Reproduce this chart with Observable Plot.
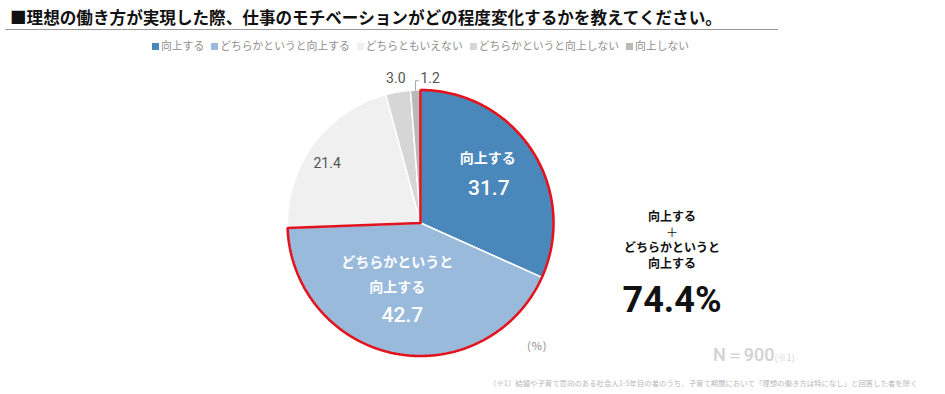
<!DOCTYPE html>
<html><head><meta charset="utf-8">
<script src="https://cdn.jsdelivr.net/npm/d3@7"></script>
<script src="https://cdn.jsdelivr.net/npm/@observablehq/plot@0.6"></script>
<style>
body{margin:0;background:#fff;font-family:"Noto Sans CJK JP","Noto Sans",sans-serif;}
#wrap{position:relative;width:945px;height:394px;overflow:hidden;background:#fff;}
.abs{position:absolute;white-space:nowrap;}
#title{left:10px;top:5px;font-size:16.6px;font-weight:700;line-height:24px;color:#111;}
#rule{left:5px;top:29px;width:773px;height:0;border-top:1.5px solid #9a9a9a;}
#legend{left:152px;top:37px;font-size:10.8px;line-height:16px;color:#8f8f8f;}
#legend .sw{display:inline-block;width:7px;height:7px;margin-right:2px;vertical-align:0px;}
#legend .it{margin-right:7px;}
#sumblock{left:572px;width:200px;top:208px;text-align:center;font-size:12px;font-weight:700;line-height:15.5px;color:#111;}
#sumblock .plus{font-weight:400;}
#sumval{left:572px;width:200px;top:279px;text-align:center;font-family:Roboto,sans-serif;font-weight:700;font-size:36px;line-height:42px;color:#111;}
#pct{left:527px;top:337px;font-size:11px;line-height:16px;color:#8a8a8a;letter-spacing:1px;}
#nval{left:713px;top:343px;font-family:Roboto,sans-serif;font-size:18px;font-weight:500;line-height:24px;color:#d2d2d2;}
#nval small{font-size:9px;font-family:"Noto Sans CJK JP",sans-serif;font-weight:400;}
#note{left:489px;top:377px;font-size:7.4px;line-height:12px;color:#b8b8b8;}
#chart{position:absolute;left:0;top:55px;}
</style></head><body>
<div id="wrap">
  <div id="title" class="abs"></div>
  <div id="rule" class="abs"></div>
  <div id="legend" class="abs"></div>
  <div id="chart"></div>
  <div id="sumblock" class="abs"></div>
  <div id="sumval" class="abs"></div>
  <div id="pct" class="abs"></div>
  <div id="nval" class="abs"></div>
  <div id="note" class="abs"></div>
</div>
<script>
const titleText = "■理想の働き方が実現した際、仕事のモチベーションがどの程度変化するかを教えてください。";
const categories = ["向上する","どちらかというと向上する","どちらともいえない","どちらかというと向上しない","向上しない"];
const values = [31.7, 42.7, 21.4, 3.0, 1.2];
const colors = ["#4a87bb","#9abadc","#f0f0f0","#d6d6d6","#b9b9b9"];
const highlightCount = 2;
const sliceLabelLines = [["向上する"], ["どちらかというと","向上する"]];
const sumLines = ["向上する","＋","どちらかというと","向上する"];
const unitText = "(%)";
const nText = "N＝900";
const nNote = "(※1)";
const noteText = "（※1）結婚や子育て意向のある社会人1-5年目の者のうち、子育て期間において「理想の働き方は特になし」と回答した者を除く";

// header / legend
document.getElementById("title").textContent = titleText;
const lg = document.getElementById("legend");
categories.forEach((c,i)=>{
  const it = document.createElement("span"); it.className="it";
  const sw = document.createElement("span"); sw.className="sw"; sw.style.background = colors[i];
  it.appendChild(sw); it.appendChild(document.createTextNode(c));
  lg.appendChild(it);
});
const sb = document.getElementById("sumblock");
sumLines.forEach((t)=>{const d=document.createElement("div"); d.textContent=t; if(t==="＋") d.className="plus"; sb.appendChild(d);});
const sum = values.slice(0,highlightCount).reduce((a,b)=>a+b,0);
document.getElementById("sumval").textContent = sum.toFixed(1) + "%";
document.getElementById("pct").textContent = unitText;
document.getElementById("nval").innerHTML = nText + "<small>" + nNote + "</small>";
document.getElementById("note").textContent = noteText;

// slices
const TAU = Math.PI*2;
const total = d3.sum(values);
let cum = 0;
const slices = values.map((v,i)=>{
  const s = cum/total*TAU; cum += v; const e = cum/total*TAU;
  return {cat:categories[i], v, s, e, m:(s+e)/2, i};
});
function wedge(s,e,key){
  const pts=[{x:0,y:0,k:key}];
  const n=Math.max(2,Math.ceil((e-s)/(Math.PI/360)));
  for(let k=0;k<=n;k++){const a=s+(e-s)*k/n; pts.push({x:Math.sin(a),y:Math.cos(a),k:key});}
  pts.push({x:0,y:0,k:key});
  return pts;
}
const wedgePts = slices.flatMap(d=>wedge(d.s,d.e,d.cat));
const outlinePts = wedge(0, slices[highlightCount-1].e, "hl");

const polar = (a,r)=>({x:Math.sin(a)*r, y:Math.cos(a)*r});
const s0=slices[0], s1=slices[1], s2=slices[2], s3=slices[3], s4=slices[4];
const p0=polar(s0.m,0.63), p1=polar(s1.m,0.52), p2=polar(s2.m,0.83), p3=polar(s3.m,1.10);
const lead0 = polar(s4.m,1);
const leader = [lead0, {x:lead0.x, y:1.07}, {x:lead0.x+0.022, y:1.07}];

const white = {fill:"#fff"};
const jp = {fontSize:14,fontWeight:700,fontFamily:"Noto Sans CJK JP",fill:"#fff"};
const num = {fontSize:21,fontWeight:500,fontFamily:"Roboto",fill:"#fff"};
const out = {fontSize:14,fontFamily:"Roboto",fill:"#555"};

const W=945, H=339, cx=420, cy=167.5, R=133;
const chart = Plot.plot({
  width:W, height:H, margin:0,
  x:{domain:[-1,1], range:[cx-R,cx+R], axis:null},
  y:{domain:[-1,1], range:[cy+R,cy-R], axis:null},
  color:{domain:categories, range:colors},
  marks:[
    Plot.line(wedgePts,{x:"x",y:"y",z:"k",fill:"k",stroke:"#fff",strokeWidth:1.5,strokeLinejoin:"round",curve:"linear"}),
    Plot.line(outlinePts,{x:"x",y:"y",stroke:"#e3121c",strokeWidth:2.6,fill:"none",strokeLinejoin:"miter",curve:"linear"}),
    Plot.line(leader,{x:"x",y:"y",stroke:"#a6a6a6",strokeWidth:1,curve:"linear"}),
    Plot.text([p0],{x:"x",y:"y",text:()=>sliceLabelLines[0][0],dy:-19,dx:-3,...jp}),
    Plot.text([p0],{x:"x",y:"y",text:()=>s0.v.toFixed(1),dy:11,dx:-2,...num}),
    Plot.text([p1],{x:"x",y:"y",text:()=>sliceLabelLines[1][0],dy:-28.5,dx:-10,...jp}),
    Plot.text([p1],{x:"x",y:"y",text:()=>sliceLabelLines[1][1],dy:-3.5,dx:-10,...jp}),
    Plot.text([p1],{x:"x",y:"y",text:()=>s1.v.toFixed(1),dy:24.5,dx:-5,...num}),
    Plot.text([p2],{x:"x",y:"y",text:()=>s2.v.toFixed(1),dx:-4.5,dy:5.5,...out}),
    Plot.text([p3],{x:"x",y:"y",text:()=>s3.v.toFixed(1),...out}),
    Plot.text([leader[2]],{x:"x",y:"y",text:()=>s4.v.toFixed(1),dx:2,dy:-2,textAnchor:"start",...out})
  ]
});
document.getElementById("chart").appendChild(chart);
</script>
</body></html>
